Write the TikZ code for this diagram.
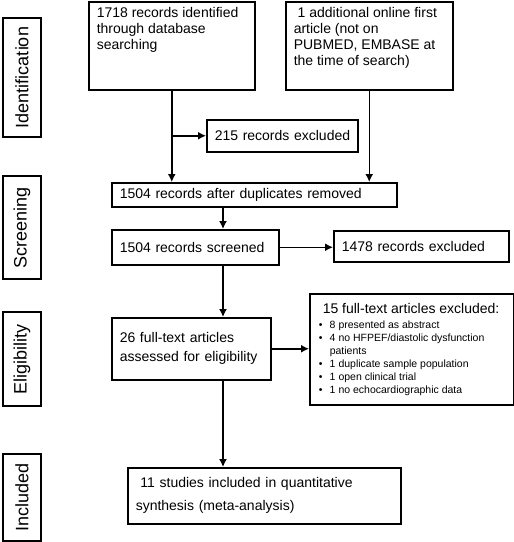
\documentclass[tikz,border=0pt]{standalone}
\usepackage{fontspec}
\setmainfont{Liberation Sans}
\usetikzlibrary{arrows.meta}
\newcommand{\blt}{\makebox[11pt][l]{\textbullet}}

\begin{document}
\begin{tikzpicture}[x=1pt, y=-1pt,
  box/.style={draw, line width=1.5pt, anchor=north west, font=\fontsize{14}{16}\selectfont},
  stage/.style={draw, line width=1.5pt, rotate=90, minimum height=38pt, inner sep=0pt, font=\fontsize{18}{20}\selectfont},
  arr/.style={-{Latex[length=8pt,width=8pt]}, line width=1.5pt}]

\useasboundingbox (0,0) rectangle (514,542);

% stages
\node[stage, minimum width=119pt] (ident) at (22,77.5) {Identification};
\node[stage, minimum width=103pt] (screen) at (22,227.5) {Screening};
\node[stage, minimum width=94pt] (elig) at (22,359) {Eligibility};
\node[stage, minimum width=87pt] (incl) at (22,497.5) {Included};

% boxes
\node[box, inner xsep=8pt, inner ysep=6pt] (db) at (88,1) {\parbox[c][76pt][t]{150pt}{\raggedright 1718 records identified\\ through database\\ searching}};
\node[box, inner xsep=8pt, inner ysep=6pt] (extra) at (285,1) {\parbox[c][76pt][t]{151pt}{\raggedright \ 1 additional online first\\ article (not on\\ PUBMED, EMBASE at\\ the time of search)}};
\node[box, minimum height=32pt, text width=145pt, inner xsep=3pt, align=left] (ex215) at (206,119) {\hspace*{5pt}215 records excluded};
\node[box, minimum height=24pt, text width=269pt, inner xsep=8pt, inner ysep=0pt, align=left] (dup) at (111,182) {1504 records after duplicates removed};
\node[box, minimum height=35pt, text width=151pt, inner xsep=8pt, align=left] (scr) at (111,229) {1504 records screened};
\node[box, minimum height=31pt, text width=159pt, inner xsep=8pt, align=left] (ex1478) at (333,230) {1478 records excluded};
\node[box, minimum height=62pt, text width=143pt, inner xsep=8pt, align=left, font=\fontsize{14}{19}\selectfont] (full) at (111,317) {26 full-text articles\\ assessed for eligibility};
\node[box, inner xsep=9pt, inner ysep=10pt] (ex15) at (309,293) {\parbox[c][91pt][t]{186pt}{%
  \hspace*{4pt}15 full-text articles excluded:\par
  \vspace{2pt}\fontsize{10.5}{13}\selectfont
  \blt 8 presented as abstract\par
  \blt 4 no HFPEF/diastolic dysfunction\par
  \hspace*{11pt}patients\par
  \blt 1 duplicate sample population\par
  \blt 1 open clinical trial\par
  \blt 1 no echocardiographic data}};
\node[box, minimum height=56pt, text width=257pt, inner xsep=8pt, align=left, font=\fontsize{14}{23}\selectfont] (incl11) at (127,467) {\ 11 studies included in quantitative\\ synthesis (meta-analysis)};

% arrows
\coordinate (spine) at (223,0);
\draw[arr] (db.south) -- (db.south |- dup.north);
\draw[arr] (extra.south) -- (extra.south |- dup.north);
\draw[arr] (db.south |- ex215.west) -- (ex215.west);
\draw[arr] (spine |- dup.south) -- (spine |- scr.north);
\draw[arr] (scr.east) -- (ex1478.west |- scr.east);
\draw[arr] (spine |- scr.south) -- (spine |- full.north);
\draw[arr] (full.east) -- (full.east -| ex15.west);
\draw[arr] (spine |- full.south) -- (spine |- incl11.north);
\end{tikzpicture}
\end{document}
